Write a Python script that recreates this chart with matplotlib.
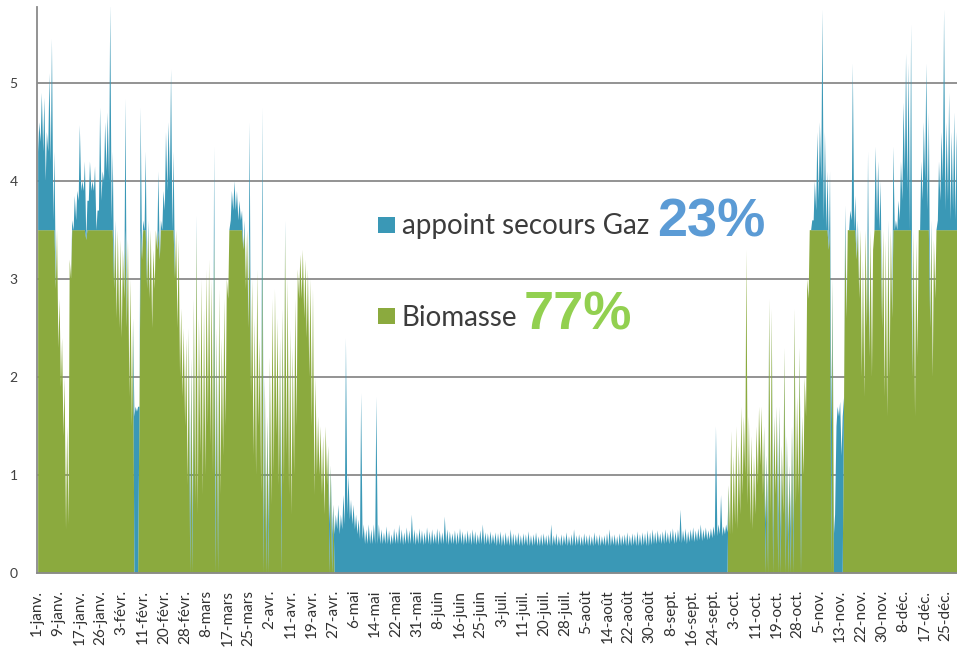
import matplotlib
matplotlib.use("Agg")
import matplotlib.pyplot as plt
from matplotlib.patches import Rectangle
import numpy as np

# ---------------- data (daily max / daily min of total heat demand, MW) ----------------
BIOMASS_CAP = 3.5  # biomass boiler capacity, gas covers the rest

jan_peak = [4.6, 4.9, 4.85, 4.5, 5.1, 5.45, 4.3, 3.5, 2.8, 2.4, 2.0, 1.5, 3.2, 3.6, 3.85, 3.9,
            4.57, 4.0, 4.2, 3.8, 4.2, 4.0, 4.15, 3.7, 4.75, 4.1, 4.6, 4.7, 5.8, 4.3, 3.6]
jan_low = [4.3, 4.4, 4.3, 4.0, 4.3, 4.2, 3.6, 2.9, 2.3, 1.9, 1.4, 0.45, 0.5, 3.0, 3.5, 3.6,
           3.8, 3.9, 3.9, 3.4, 3.8, 3.9, 3.9, 3.5, 3.7, 3.8, 4.0, 4.1, 4.0, 3.6, 2.9]
jan_mode = "BBBBBBBBBBBBBBBBBBBBBBBBBBBBBBB"

feb_peak = [3.5, 3.4, 3.3, 4.84, 3.4, 3.0, 2.6, 1.7, 1.7, 4.75, 3.6, 4.3, 3.6, 3.5, 3.3, 3.5,
            4.1, 3.6, 3.9, 4.5, 4.6, 5.14, 4.3, 3.5, 3.4, 2.7, 2.5, 2.4]
feb_low = [2.6, 2.5, 2.4, 2.8, 2.5, 1.8, 1.5, 1.6, 1.65, 1.7, 3.2, 3.5, 2.9, 2.8, 2.5, 2.9,
           3.3, 3.2, 3.5, 3.7, 3.9, 4.0, 3.5, 3.0, 2.5, 2.0, 1.8, 1.5]
feb_mode = "BBBBBBBGGBBBBBBBBBBBBBBBBBBB"

mar_peak = [2.5, 2.2, 2.8, 3.65, 2.6, 3.0, 2.7, 3.1, 3.2, 3.0, 4.35, 2.5, 2.9, 2.4, 2.8, 3.0,
            3.5, 3.9, 4.0, 3.9, 3.8, 3.7, 3.6, 3.5, 4.6, 3.0, 2.6, 3.1, 2.4, 4.75, 2.0]
mar_low = [0.9, 0.6, 0.5, 0.7, 0.6, 1.2, 0.8, 1.0, 1.5, 1.3, 1.0, 0.6, 0.5, 0.8, 1.2, 1.5,
           2.8, 3.6, 3.7, 3.7, 3.6, 3.6, 3.3, 2.9, 2.5, 1.8, 1.2, 1.0, 1.5, 0.8, 0.5]
mar_mode = "BMMBBBBBBBBMMBBBBBBBBBBBBBBBBBM"

apr_peak = [1.6, 2.2, 2.8, 2.9, 2.6, 2.4, 2.7, 3.6, 3.0, 2.5, 2.3, 2.8, 3.1, 3.25, 3.3, 3.2,
            3.1, 3.0, 2.9, 2.0, 1.6, 1.5, 1.4, 1.5, 1.3, 1.1, 0.7, 0.6, 0.7, 0.6]
apr_low = [0.4, 0.5, 0.7, 1.0, 1.4, 0.9, 0.6, 0.9, 1.2, 0.8, 0.6, 1.0, 1.5, 2.8, 2.8, 2.6,
           2.4, 2.0, 1.5, 0.8, 1.0, 1.0, 0.8, 0.6, 0.9, 0.5, 0.4, 0.4, 0.45, 0.4]
apr_mode = "MMBBBBMBBBBBBBBBBBBBBBBBBMMGGG"

may_peak = [0.8, 2.4, 1.0, 0.75, 0.7, 0.6, 0.55, 1.84, 0.5, 0.45, 0.5, 0.45, 0.5, 1.8, 0.5, 0.45,
            0.42, 0.48, 0.44, 0.4, 0.46, 0.43, 0.5, 0.45, 0.42, 0.47, 0.44, 0.6, 0.45, 0.42, 0.46]
may_low = [0.45, 0.5, 0.6, 0.55, 0.5, 0.45, 0.4, 0.35, 0.35, 0.3, 0.3, 0.3, 0.3, 0.3, 0.3, 0.3,
           0.3, 0.3, 0.3, 0.29, 0.3, 0.3, 0.3, 0.3, 0.29, 0.3, 0.3, 0.3, 0.3, 0.29, 0.3]
may_mode = "GGGGGGGGGGGGGGGGGGGGGGGGGGGGGGG"

jun_peak = [0.44, 0.42, 0.47, 0.43, 0.45, 0.41, 0.46, 0.44, 0.42, 0.58, 0.45, 0.43, 0.41, 0.44, 0.42,
            0.46, 0.43, 0.41, 0.44, 0.42, 0.45, 0.43, 0.40, 0.44, 0.5, 0.42, 0.41, 0.43, 0.40, 0.42]
jun_low = [0.3, 0.29, 0.3, 0.3, 0.29, 0.3, 0.3, 0.29, 0.3, 0.3, 0.3, 0.29, 0.3, 0.3, 0.29,
           0.3, 0.3, 0.29, 0.3, 0.3, 0.29, 0.3, 0.29, 0.3, 0.3, 0.29, 0.3, 0.29, 0.3, 0.3]
jun_mode = "GGGGGGGGGGGGGGGGGGGGGGGGGGGGGG"

jul_peak = [0.41, 0.43, 0.40, 0.42, 0.39, 0.45, 0.41, 0.40, 0.42, 0.39, 0.41, 0.40, 0.43, 0.39, 0.40,
            0.42, 0.38, 0.40, 0.41, 0.39, 0.40, 0.5, 0.39, 0.41, 0.38, 0.40, 0.39, 0.42, 0.38, 0.40, 0.45]
jul_low = [0.28, 0.29, 0.28, 0.28, 0.29, 0.28, 0.28, 0.28, 0.29, 0.28, 0.28, 0.29, 0.28, 0.28, 0.28,
           0.29, 0.28, 0.28, 0.28, 0.29, 0.28, 0.28, 0.28, 0.29, 0.28, 0.28, 0.28, 0.29, 0.28, 0.28, 0.28]
jul_mode = "GGGGGGGGGGGGGGGGGGGGGGGGGGGGGGG"

aug_peak = [0.39, 0.40, 0.38, 0.41, 0.39, 0.40, 0.38, 0.42, 0.39, 0.40, 0.38, 0.39, 0.41, 0.45, 0.39,
            0.40, 0.38, 0.41, 0.39, 0.40, 0.42, 0.39, 0.41, 0.40, 0.43, 0.40, 0.42, 0.41, 0.44, 0.42, 0.45]
aug_low = [0.28, 0.29, 0.28, 0.28, 0.29, 0.28, 0.28, 0.28, 0.29, 0.28, 0.28, 0.29, 0.28, 0.28, 0.28,
           0.29, 0.28, 0.28, 0.28, 0.29, 0.28, 0.28, 0.28, 0.29, 0.28, 0.28, 0.28, 0.29, 0.28, 0.28, 0.29]
aug_mode = "GGGGGGGGGGGGGGGGGGGGGGGGGGGGGGG"

sep_peak = [0.42, 0.44, 0.41, 0.43, 0.45, 0.42, 0.44, 0.46, 0.43, 0.45, 0.65, 0.44, 0.46, 0.43, 0.45,
            0.47, 0.44, 0.46, 0.5, 0.45, 0.47, 0.44, 0.46, 0.48, 1.5, 0.5, 0.8, 0.48, 0.5, 0.9]
sep_low = [0.3, 0.3, 0.31, 0.3, 0.3, 0.31, 0.3, 0.32, 0.3, 0.31, 0.32, 0.31, 0.32, 0.3, 0.32,
           0.33, 0.32, 0.33, 0.34, 0.33, 0.35, 0.34, 0.35, 0.36, 0.38, 0.38, 0.4, 0.38, 0.4, 0.42]
sep_mode = "GGGGGGGGGGGGGGGGGGGGGGGGGGGGGM"

oct_peak = [1.45, 1.2, 1.5, 1.3, 1.7, 1.6, 3.3, 1.6, 1.4, 1.2, 1.5, 1.7, 1.7, 1.5, 1.2, 2.8,
            2.7, 1.6, 1.7, 1.7, 1.3, 2.3, 1.4, 1.1, 1.5, 2.7, 1.8, 2.3, 1.6, 2.0, 3.0]
oct_low = [0.4, 0.4, 0.5, 0.45, 0.6, 0.8, 1.0, 0.7, 0.5, 0.45, 0.6, 0.9, 1.1, 0.8, 0.5, 0.5,
           0.6, 0.45, 0.8, 0.6, 0.45, 0.6, 0.5, 0.4, 0.45, 0.5, 0.7, 0.8, 0.6, 1.0, 1.6]
oct_mode = "BBBBBBBBBBBBBBMMBMBMMBMMMMBBMBB"

nov_peak = [3.5, 3.6, 4.0, 4.5, 4.6, 5.75, 4.5, 4.1, 4.1, 3.0, 0.6, 1.7, 1.75, 1.6, 3.75,
            3.5, 3.7, 5.2, 3.85, 3.6, 3.5, 3.2, 3.5, 4.3, 3.5, 3.3, 4.35, 4.2, 4.0, 3.5]
nov_low = [2.8, 3.5, 3.6, 3.7, 3.8, 4.0, 3.6, 3.5, 3.3, 1.5, 0.4, 1.5, 1.6, 1.2, 1.8,
           2.6, 3.5, 3.6, 3.5, 3.2, 2.8, 2.0, 1.8, 2.5, 2.2, 2.0, 3.5, 3.6, 3.5, 2.5]
nov_mode = "BBBBBBBBBMGGGGBBBBBBBBBBBBBBBB"

dec_peak = [3.4, 3.6, 3.5, 4.35, 3.6, 3.8, 4.2, 4.8, 5.3, 5.2, 5.6, 3.5, 3.4, 3.5, 4.2, 4.6,
            5.2, 4.7, 3.6, 3.4, 3.5, 4.2, 4.5, 5.75, 4.6, 4.9, 4.5, 4.7, 4.5, 4.4, 4.6]
dec_low = [1.8, 1.6, 2.0, 2.6, 3.5, 3.5, 3.6, 3.8, 4.1, 3.9, 3.5, 2.0, 1.6, 2.2, 3.5, 3.8,
           4.0, 3.7, 2.5, 2.0, 2.8, 3.6, 3.8, 4.0, 3.7, 3.8, 3.6, 3.7, 3.6, 3.6, 3.7]
dec_mode = "BBBBBBBBBBBBBBBBBBBBBBBBBBBBBBB"

tick_labels = ["1-janv.", "9-janv.", "17-janv.", "26-janv.", "3-févr.", "11-févr.", "20-févr.",
               "28-févr.", "8-mars", "17-mars", "25-mars", "2-avr.", "11-avr.", "19-avr.",
               "27-avr.", "6-mai", "14-mai", "22-mai", "31-mai", "8-juin", "16-juin", "25-juin",
               "3-juil.", "11-juil.", "20-juil.", "28-juil.", "5-août", "14-août", "22-août",
               "30-août", "8-sept.", "16-sept.", "24-sept.", "3-oct.", "11-oct.", "19-oct.",
               "28-oct.", "5-nov.", "13-nov.", "22-nov.", "30-nov.", "8-déc.", "17-déc.", "25-déc."]
tick_step_hours = 200

series_names = ["appoint secours Gaz", "Biomasse"]
shares = ["23%", "77%"]

# ---------------- assemble ----------------
peak = np.array(jan_peak + feb_peak + mar_peak + apr_peak + may_peak + jun_peak +
                jul_peak + aug_peak + sep_peak + oct_peak + nov_peak + dec_peak)
low = np.array(jan_low + feb_low + mar_low + apr_low + may_low + jun_low +
               jul_low + aug_low + sep_low + oct_low + nov_low + dec_low)
mode = (jan_mode + feb_mode + mar_mode + apr_mode + may_mode + jun_mode +
        jul_mode + aug_mode + sep_mode + oct_mode + nov_mode + dec_mode)

n = len(peak)
days = np.arange(n)
t = np.empty(2 * n)
v = np.empty(2 * n)
t[0::2] = days + 0.15
t[1::2] = days + 0.6
v[0::2] = low
v[1::2] = peak

bio = np.minimum(v, BIOMASS_CAP)
for i in range(2 * n):
    m = mode[i // 2]
    if m == "G" or (m == "M" and i % 2 == 0):
        bio[i] = 0.0
gas = v - bio

GREEN = "#8BAA3E"
BLUE = "#3A98B6"

W, H = 957, 661
fig = plt.figure(figsize=(W / 100, H / 100), dpi=100)
ax = fig.add_axes([37 / W, (H - 573) / H, (W - 37) / W, 566 / H])

for yv in [1, 2, 3, 4, 5]:
    ax.axhline(yv, color="#8a8a8a", lw=1.3, zorder=1)

ax.fill_between(t, 0, bio, color=GREEN, lw=0, zorder=2)
ax.fill_between(t, bio, bio + gas, color=BLUE, lw=0, zorder=2)

ax.set_xlim(-0.1, 362.9)
ax.set_ylim(0, 5.77)

for s in ["top", "right"]:
    ax.spines[s].set_visible(False)
for s in ["left", "bottom"]:
    ax.spines[s].set_color("#8a8a8a")
    ax.spines[s].set_linewidth(1.3)
    ax.spines[s].set_zorder(3)

ax.set_yticks([0, 1, 2, 3, 4, 5])
ax.set_yticklabels(["0", "1", "2", "3", "4", "5"], fontsize=10, color="#404040", family="Lato")
ax.tick_params(axis="y", length=0, pad=14)

xt = np.arange(len(tick_labels)) * tick_step_hours / 24.0
ax.set_xticks(xt)
ax.set_xticklabels(tick_labels, rotation=90, fontsize=11, color="#303030", family="Lato",
                   va="top", ha="center")
ax.tick_params(axis="x", length=0, pad=12)

# legend-like annotation
fig.add_artist(Rectangle((378 / W, 1 - 233 / H), 17 / W, 16 / H, transform=fig.transFigure,
                         color=BLUE, lw=0))
fig.add_artist(Rectangle((378 / W, 1 - 324 / H), 17 / W, 16 / H, transform=fig.transFigure,
                         color=GREEN, lw=0))
fig.text(402 / W, 1 - 234 / H, series_names[0], fontsize=20, color="#3c3c3c",
         family="Lato", va="baseline", ha="left")
fig.text(402 / W, 1 - 326 / H, series_names[1], fontsize=20, color="#3c3c3c",
         family="Lato", va="baseline", ha="left")
fig.text(657 / W, 1 - 237 / H, shares[0], fontsize=39, weight="bold", color="#5B9BD5",
         family="Liberation Sans", va="baseline", ha="left")
fig.text(524 / W, 1 - 330 / H, shares[1], fontsize=39, weight="bold", color="#92D050",
         family="Liberation Sans", va="baseline", ha="left")

fig.savefig("out.png", dpi=100)
